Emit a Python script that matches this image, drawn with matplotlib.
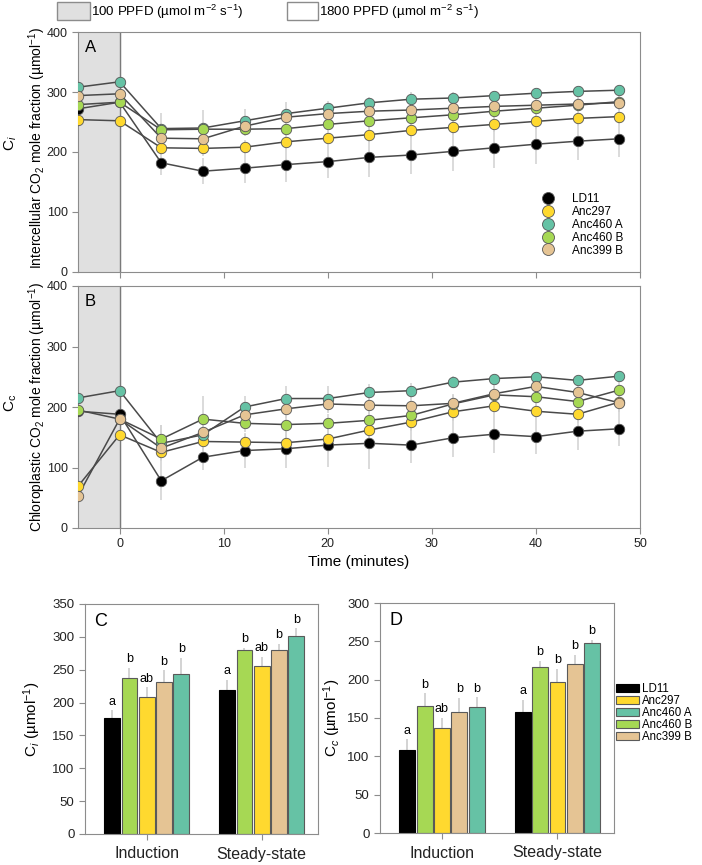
import matplotlib
matplotlib.use("Agg")
import matplotlib.pyplot as plt
from matplotlib.patches import Rectangle
import numpy as np

plt.rcParams['font.family'] = ['Liberation Sans', 'DejaVu Sans']
plt.rcParams['mathtext.fontset'] = 'custom'
plt.rcParams['mathtext.rm'] = 'Liberation Sans'
plt.rcParams['mathtext.it'] = 'Liberation Sans:italic'
plt.rcParams['axes.edgecolor'] = '#8c8c8c'
plt.rcParams['xtick.color'] = '#8c8c8c'
plt.rcParams['ytick.color'] = '#8c8c8c'
plt.rcParams['xtick.labelcolor'] = '#222222'
plt.rcParams['ytick.labelcolor'] = '#222222'

# ---- data ----
lines = ["LD11", "Anc297", "Anc460 A", "Anc460 B", "Anc399 B"]
colors = {"LD11": "#000000", "Anc297": "#ffd92f", "Anc460 A": "#66c2a5",
          "Anc460 B": "#a6d854", "Anc399 B": "#e5c494"}

time = [-4, 0, 4, 8, 12, 16, 20, 24, 28, 32, 36, 40, 44, 48]

ci = {
    "LD11":     [272, 283, 182, 168, 173, 179, 184, 191, 195, 201, 207, 213, 218, 222],
    "Anc297":   [254, 252, 207, 206, 208, 217, 223, 229, 236, 241, 246, 251, 256, 259],
    "Anc460 A": [308, 317, 239, 240, 252, 264, 273, 282, 288, 290, 294, 298, 301, 303],
    "Anc460 B": [279, 283, 237, 238, 238, 239, 246, 252, 257, 262, 268, 273, 278, 284],
    "Anc399 B": [294, 297, 223, 222, 243, 258, 264, 268, 270, 273, 276, 278, 280, 282],
}
ci_err = {
    "LD11":     [8, 8, 20, 22, 25, 29, 28, 32, 32, 32, 33, 33, 31, 31],
    "Anc297":   [8, 8, 12, 12, 12, 12, 12, 12, 12, 12, 12, 12, 12, 12],
    "Anc460 A": [8, 8, 26, 30, 20, 20, 12, 10, 12, 10, 7, 5, 5, 5],
    "Anc460 B": [8, 8, 12, 12, 12, 12, 12, 12, 12, 12, 12, 12, 12, 12],
    "Anc399 B": [8, 8, 12, 12, 12, 12, 12, 12, 12, 12, 12, 12, 12, 12],
}

cc = {
    "LD11":     [193, 188, 78, 117, 128, 131, 137, 140, 137, 149, 155, 151, 160, 164],
    "Anc297":   [69, 154, 125, 143, 142, 141, 147, 162, 175, 192, 202, 193, 188, 208],
    "Anc460 A": [215, 227, 140, 154, 200, 214, 214, 224, 227, 241, 247, 250, 244, 251],
    "Anc460 B": [195, 180, 147, 180, 173, 171, 173, 178, 186, 205, 220, 217, 209, 228],
    "Anc399 B": [53, 180, 132, 158, 187, 197, 205, 203, 202, 206, 222, 234, 224, 207],
}
cc_err = {
    "LD11":     [8, 8, 31, 21, 28, 32, 36, 43, 30, 32, 31, 28, 31, 29],
    "Anc297":   [8, 8, 15, 15, 15, 15, 15, 15, 15, 15, 15, 15, 15, 15],
    "Anc460 A": [8, 8, 31, 15, 18, 21, 20, 14, 12, 10, 8, 8, 8, 8],
    "Anc460 B": [8, 8, 24, 38, 15, 15, 15, 15, 15, 15, 15, 15, 15, 15],
    "Anc399 B": [8, 8, 15, 15, 15, 15, 15, 15, 15, 15, 15, 15, 15, 15],
}

phases = ["Induction", "Steady-state"]
bar_order = ["LD11", "Anc460 B", "Anc297", "Anc399 B", "Anc460 A"]

ci_bar = {"LD11": [176, 219], "Anc460 B": [237, 280], "Anc297": [208, 255],
          "Anc399 B": [231, 280], "Anc460 A": [244, 301]}
ci_bar_err = {"LD11": [12, 16], "Anc460 B": [16, 3], "Anc297": [15, 15],
              "Anc399 B": [18, 9], "Anc460 A": [24, 12]}
ci_letters = {"LD11": ["a", "a"], "Anc460 B": ["b", "b"], "Anc297": ["ab", "ab"],
              "Anc399 B": ["b", "b"], "Anc460 A": ["b", "b"]}

cc_bar = {"LD11": [108, 158], "Anc460 B": [166, 217], "Anc297": [137, 197],
          "Anc399 B": [158, 221], "Anc460 A": [164, 248]}
cc_bar_err = {"LD11": [14, 16], "Anc460 B": [16, 7], "Anc297": [13, 17],
              "Anc399 B": [18, 11], "Anc460 A": [13, 4]}
cc_letters = {"LD11": ["a", "a"], "Anc460 B": ["b", "b"], "Anc297": ["ab", "b"],
              "Anc399 B": ["b", "b"], "Anc460 A": ["b", "b"]}

W, H = 702, 865


def ax_rect(l, t, r, b):
    return [l / W, 1 - b / H, (r - l) / W, (b - t) / H]


fig = plt.figure(figsize=(W / 100, H / 100), dpi=100)


def time_panel(rect, data, err, letter):
    ax = fig.add_axes(rect)
    ax.axvspan(-4, 0, color='#e0e0e0', zorder=0)
    ax.axvline(0, color='#7a7a7a', lw=1, zorder=1)
    for name in lines:
        ax.errorbar(time, data[name], yerr=err[name], fmt='none',
                    ecolor='#d4d4d4', elinewidth=1.2, capsize=0, zorder=2)
    for name in lines:
        ax.plot(time, data[name], '-', color='#4a4a4a', lw=1.1, zorder=3)
    for name in lines:
        ax.plot(time, data[name], 'o', ms=7.5, mfc=colors[name],
                mec='#555555', mew=0.6, zorder=4, label=name)
    ax.set_xlim(-4, 50)
    ax.set_ylim(0, 400)
    ax.set_yticks([0, 100, 200, 300, 400])
    ax.set_xticks([0, 10, 20, 30, 40, 50])
    ax.tick_params(direction='out', length=4, labelsize=9)
    ax.text(0.012, 0.965, letter, transform=ax.transAxes, fontsize=12,
            va='top', ha='left')
    return ax


axA = time_panel(ax_rect(78, 32, 640, 272), ci, ci_err, "A")
axA.tick_params(axis='x', labelbottom=False)
axA.legend(loc='upper left', bbox_to_anchor=(0.816, 0.3525), frameon=False,
           fontsize=8.5, labelspacing=0.07, handletextpad=1.5, handlelength=1.0,
           markerscale=1.15, borderpad=0)

axB = time_panel(ax_rect(78, 286, 640, 528), cc, cc_err, "B")
axB.set_xlabel("Time (minutes)", fontsize=11, labelpad=3)

fig.text(37 / W, 1 - 148 / H, "Intercellular CO$_2$ mole fraction (µmol$^{-1}$)",
         rotation=90, ha='center', va='center', fontsize=10)
fig.text(11 / W, 1 - 143 / H, "C$_{\\mathit{i}}$", rotation=90, ha='center',
         va='center', fontsize=11)
fig.text(37 / W, 1 - 407 / H, "Chloroplastic CO$_2$ mole fraction (µmol$^{-1}$)",
         rotation=90, ha='center', va='center', fontsize=10)
fig.text(11 / W, 1 - 403 / H, "C$_\\mathrm{c}$", rotation=90, ha='center',
         va='center', fontsize=11)

# top light legend
for x0, x1, fc, txt in [(57, 90, '#e0e0e0', "100 PPFD (µmol m$^{-2}$ s$^{-1}$)"),
                        (287, 318, 'white', "1800 PPFD (µmol m$^{-2}$ s$^{-1}$)")]:
    fig.patches.append(Rectangle((x0 / W, 1 - 20 / H), (x1 - x0) / W, 18 / H,
                                 transform=fig.transFigure, fc=fc,
                                 ec='#8c8c8c', lw=1))
    fig.text((x1 + 1) / W, 1 - 12 / H, txt, ha='left', va='center', fontsize=9.6)


def bar_panel(rect, vals, errs, letters, ymax, letter, ylabel, labelx):
    ax = fig.add_axes(rect)
    x = np.arange(len(phases))
    pitch, width = 0.15, 0.137
    handles = {}
    for i, name in enumerate(bar_order):
        xs = x + (i - 2) * pitch
        ax.errorbar(xs, vals[name], yerr=[[0, 0], errs[name]], fmt='none',
                    ecolor='#d0d0d0', elinewidth=1.3, capsize=0, zorder=1)
        b = ax.bar(xs, vals[name], width, color=colors[name],
                   edgecolor='#000000' if name == "LD11" else '#5a5a5a',
                   lw=0.8, zorder=2)
        handles[name] = b
        for j in range(len(phases)):
            ax.annotate(letters[name][j], (xs[j], vals[name][j] + errs[name][j]),
                        xytext=(0, 2), textcoords='offset points',
                        ha='center', va='bottom', fontsize=9)
    ax.set_xlim(-0.537, 1.49)
    ax.set_ylim(0, ymax)
    ax.set_yticks(np.arange(0, ymax + 1, 50))
    ax.set_xticks(x)
    ax.set_xticklabels(phases, fontsize=11.5)
    ax.tick_params(direction='out', length=4)
    ax.tick_params(axis='y', labelsize=9.5)
    ax.tick_params(axis='x', pad=5)
    ax.set_ylabel(ylabel, fontsize=11)
    ax.yaxis.set_label_coords(labelx, 0.5)
    ax.text(0.04, 0.96, letter, transform=ax.transAxes, fontsize=13,
            va='top', ha='left')
    return ax, handles


axC, _ = bar_panel(ax_rect(85, 604, 318, 834), ci_bar, ci_bar_err, ci_letters,
                   350, "C", "C$_{\\mathit{i}}$ (µmol$^{-1}$)", -0.18)
axD, hD = bar_panel(ax_rect(380, 603, 614, 833), cc_bar, cc_bar_err, cc_letters,
                    300, "D", "C$_{\\mathit{c}}$ (µmol$^{-1}$)", -0.158)
axD.legend([hD[n] for n in lines], lines, loc='center left',
           bbox_to_anchor=(1.008, 0.52), frameon=False, fontsize=8.3,
           labelspacing=0.0, handlelength=2.0, handleheight=0.7,
           handletextpad=0.3, borderpad=0, borderaxespad=0)

fig.savefig("out.png", dpi=100)
